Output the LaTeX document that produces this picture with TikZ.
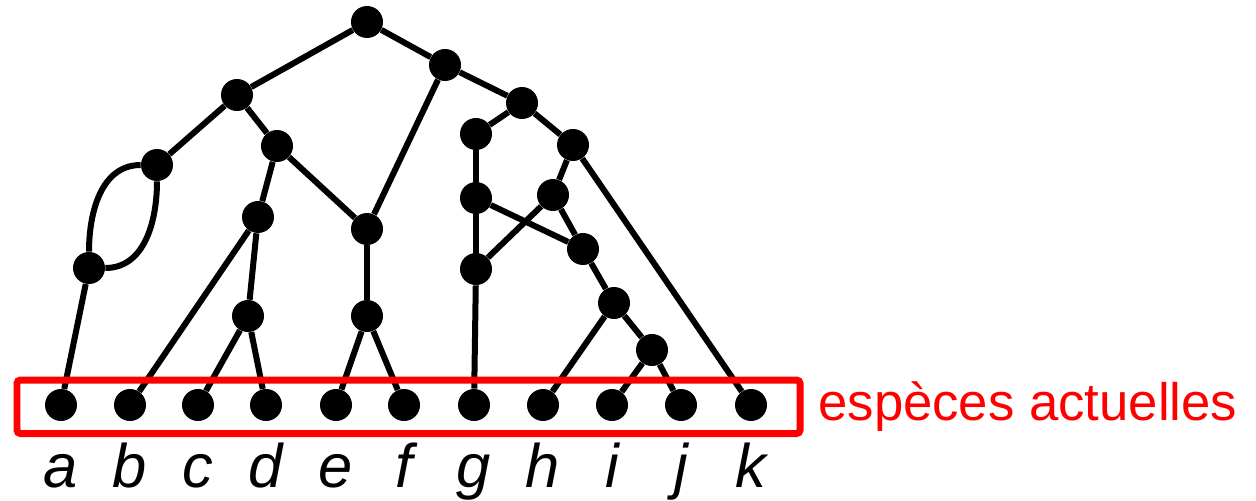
\documentclass[tikz,border=0pt]{standalone}
\usepackage{fontspec}
\setmainfont{Liberation Sans}
\usetikzlibrary{positioning}

\begin{document}
\begin{tikzpicture}[
  x=0.02cm, y=-0.02cm,
  nd/.style={circle, fill=black, inner sep=0pt, minimum size=0.64cm},
  br/.style={line width=0.12cm},
  lab/.style={anchor=base, font=\fontsize{35}{40}\selectfont\itshape}
]
  \useasboundingbox (0,0) rectangle (1256,500);

  % inner nodes
  \node[nd] (root) at (367,22) {};
  \node[nd] (n1) at (237,95) {};
  \node[nd] (n2) at (445,65) {};
  \node[nd] (n3) at (157,165) {};
  \node[nd] (n4) at (277,146) {};
  \node[nd] (n5) at (89,268) {};
  \node[nd] (n6) at (258,217) {};
  \node[nd] (n7) at (367,229) {};
  \node[nd] (n8) at (248,316) {};
  \node[nd] (n9) at (367,316) {};
  \node[nd] (n10) at (522,103) {};
  \node[nd] (n11) at (476,134) {};
  \node[nd] (n12) at (573,145) {};
  \node[nd] (n13) at (476,198) {};
  \node[nd] (n14) at (553,195) {};
  \node[nd] (n15) at (583,249) {};
  \node[nd] (n16) at (476,269) {};
  \node[nd] (n17) at (614,303) {};
  \node[nd] (n18) at (652,350) {};

  % leaves
  \node[nd] (a) at (61,405) {};
  \node[nd] (b) at (130,405) {};
  \node[nd] (c) at (198,405) {};
  \node[nd] (d) at (266,405) {};
  \node[nd] (e) at (336,405) {};
  \node[nd] (f) at (404,405) {};
  \node[nd] (g) at (474,405) {};
  \node[nd] (h) at (543,405) {};
  \node[nd] (i) at (612,405) {};
  \node[nd] (j) at (681,405) {};
  \node[nd] (k) at (751,405) {};

  \node[lab] (la) at (61,487) {a};
  \node[lab] (lb) at (130,487) {b};
  \node[lab] (lc) at (198,487) {c};
  \node[lab] (ld) at (266,487) {d};
  \node[lab] (le) at (336,487) {e};
  \node[lab] (lf) at (404,487) {f};
  \node[lab] (lg) at (474,487) {g};
  \node[lab] (lh) at (543,487) {h};
  \node[lab] (li) at (612,487) {i};
  \node[lab] (lj) at (681,487) {j};
  \node[lab] (lk) at (751,487) {k};

  % branches
  \draw[br] (root) -- (n1);
  \draw[br] (root) -- (n2);
  \draw[br] (n1) -- (n3);
  \draw[br] (n1) -- (n4);
  \draw[br] (n3) to[out=180, in=90] (n5);
  \draw[br] (n3) to[out=-90, in=0] (n5);
  \draw[br] (n5) -- (a);
  \draw[br] (n4) -- (n6);
  \draw[br] (n4) -- (n7);
  \draw[br] (n6) -- (b);
  \draw[br] (n6) -- (n8);
  \draw[br] (n8) -- (c);
  \draw[br] (n8) -- (d);
  \draw[br] (n2) -- (n7);
  \draw[br] (n7) -- (n9);
  \draw[br] (n9) -- (e);
  \draw[br] (n9) -- (f);
  \draw[br] (n2) -- (n10);
  \draw[br] (n10) -- (n11);
  \draw[br] (n10) -- (n12);
  \draw[br] (n11) -- (n13);
  \draw[br] (n13) -- (n16);
  \draw[br] (n16) -- (g);
  \draw[br] (n13) -- (n15);
  \draw[br] (n12) -- (n14);
  \draw[br] (n14) -- (n16);
  \draw[br] (n14) -- (n15);
  \draw[br] (n15) -- (n17);
  \draw[br] (n17) -- (h);
  \draw[br] (n17) -- (n18);
  \draw[br] (n18) -- (i);
  \draw[br] (n18) -- (j);
  \draw[br] (n12) -- (k);

  % extant species
  \draw[red, line width=0.14cm, rounded corners=2pt] (17,380) rectangle (800,433.5);
  \node[red, anchor=base west, inner sep=0pt, font=\fontsize{30}{36}\selectfont] (extant) at (818,420) {espèces actuelles};
\end{tikzpicture}
\end{document}
